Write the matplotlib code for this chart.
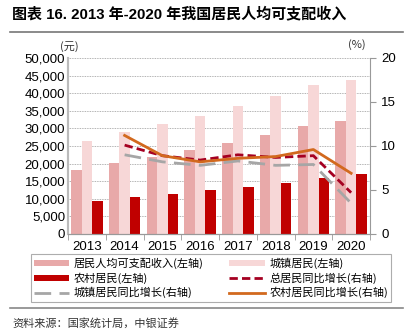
import numpy as np
import matplotlib.pyplot as plt
from matplotlib.ticker import FuncFormatter

plt.rcParams['font.family'] = ['Liberation Sans', 'Noto Sans CJK SC', 'DejaVu Sans']

# -- Data --
years = ['2013', '2014', '2015', '2016', '2017', '2018', '2019', '2020']
national = [18311, 20167, 21966, 23821, 25974, 28228, 30733, 32189]
urban = [26467, 28844, 31195, 33616, 36396, 39251, 42359, 43834]
rural = [9430, 10489, 11422, 12363, 13432, 14617, 16021, 17131]
growth_years = years[1:]
g_total = [10.1, 8.9, 8.4, 9.0, 8.7, 8.9, 4.7]
g_urban = [9.0, 8.2, 7.8, 8.3, 7.8, 7.9, 3.5]
g_rural = [11.2, 8.9, 8.2, 8.6, 8.8, 9.6, 6.9]

c_nat = '#E8A9A9'
c_urb = '#F7D7D7'
c_rur = '#C00000'
c_gt = '#A50021'
c_gu = '#A6A6A6'
c_gr = '#D2691E'

cjk = ['Noto Sans CJK SC', 'DejaVu Sans']

fig = plt.figure(figsize=(4.11, 3.36), dpi=100)
ax = fig.add_axes([68 / 411, 1 - 234 / 336, 302 / 411, 176 / 336])
ax2 = ax.twinx()

x = np.arange(len(years))
w = 0.28
ax.bar(x - w, national, w, color=c_nat, label='居民人均可支配收入(左轴)', zorder=2)
ax.bar(x, urban, w, color=c_urb, label='城镇居民(左轴)', zorder=2)
ax.bar(x + w, rural, w, color=c_rur, label='农村居民(左轴)', zorder=2)

gx = np.arange(1, len(years))
ax2.plot(gx, g_total, color=c_gt, lw=2, ls=(0, (3, 1.5)), label='总居民同比增长(右轴)')
ax2.plot(gx, g_urban, color=c_gu, lw=2, ls=(0, (6, 3)), label='城镇居民同比增长(右轴)')
ax2.plot(gx, g_rural, color=c_gr, lw=2, label='农村居民同比增长(右轴)')

ax.set_xlim(-0.5, len(years) - 0.5)
ax.set_ylim(0, 50000)
ax.set_yticks(np.arange(0, 50001, 5000))
ax.yaxis.set_major_formatter(FuncFormatter(lambda v, p: f'{int(v):,}'))
ax2.set_ylim(0, 20)
ax2.set_yticks([0, 5, 10, 15, 20])
ax.grid(axis='y', color='#999999', lw=0.6, ls=(0, (1, 1)), zorder=0)

ax.set_xticks(x)
ax.set_xticklabels(years)
ax.set_xticks(np.arange(-0.5, len(years), 1), minor=True)
ax.tick_params(axis='x', which='major', length=0, labelsize=9.5, pad=5)
ax.tick_params(axis='x', which='minor', length=4, color='#999999')
ax.tick_params(axis='y', length=0, labelsize=9.5, pad=2)
ax2.tick_params(axis='y', length=4, color='#999999', labelsize=9.5, pad=4)

ax.spines['top'].set_visible(False)
ax2.spines['top'].set_visible(False)
ax.spines['right'].set_visible(False)
ax2.spines['left'].set_color('#BBBBBB')
ax2.spines['left'].set_linewidth(1.5)
ax2.spines['right'].set_color('#999999')
ax2.spines['bottom'].set_color('#999999')
ax.spines['left'].set_color('#BBBBBB')
ax.spines['left'].set_linewidth(1.5)
ax.spines['bottom'].set_color('#999999')

fig.text(60 / 411, 1 - 47 / 336, '(元)', fontsize=8, family=cjk, ha='left', va='center', color='#333333')
fig.text(348 / 411, 1 - 45 / 336, '(%)', fontsize=8, family=cjk, ha='left', va='center', color='#333333')

# title
fig.text(12 / 411, 1 - 14 / 336, '图表 16. 2013 年-2020 年我国居民人均可支配收入', fontsize=10.8,
         fontweight='bold', family=['Liberation Sans', 'Noto Sans CJK SC'], ha='left', va='center')
fig.add_artist(plt.Line2D([10 / 411, 403 / 411], [1 - 32 / 336] * 2, color='#777777', lw=1.2))

h1, l1 = ax.get_legend_handles_labels()
h2, l2 = ax2.get_legend_handles_labels()
# column-wise fill: left column then right column
handles = [h1[0], h1[2], h2[1], h1[1], h2[0], h2[2]]
labels = [l1[0], l1[2], l2[1], l1[1], l2[0], l2[2]]
leg = fig.legend(handles, labels, ncol=2, loc='center', mode='expand',
                 bbox_to_anchor=(25 / 411, 1 - 298 / 336, 372 / 411, 40 / 336),
                 prop={'family': cjk, 'size': 8}, frameon=True, fancybox=False, edgecolor='#999999',
                 handlelength=3.2, handleheight=0.5, labelspacing=0.3,
                 borderpad=0.3, handletextpad=0.4)
leg.get_frame().set_linewidth(0.8)

fig.add_artist(plt.Line2D([10 / 411, 403 / 411], [1 - 308 / 336] * 2, color='#888888', lw=1.2))
fig.text(12 / 411, 1 - 323 / 336, '资料来源：国家统计局，中银证券', fontsize=8, style='italic',
         family=cjk, ha='left', va='center', color='#333333')

fig.savefig('out.png', dpi=100)
